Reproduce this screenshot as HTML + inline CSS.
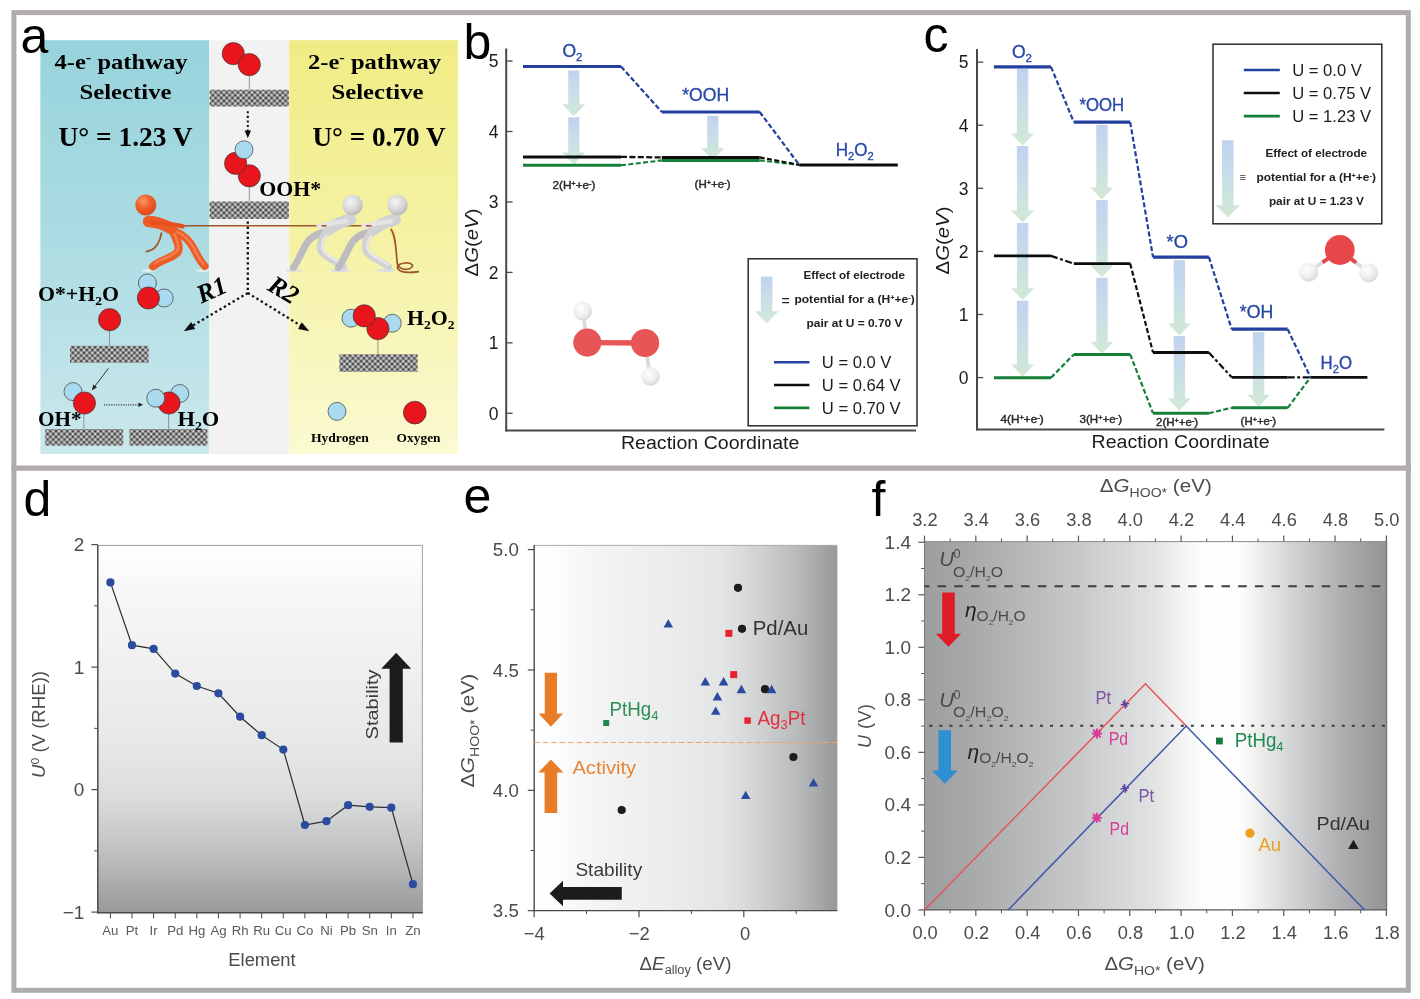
<!DOCTYPE html>
<html><head><meta charset="utf-8"><title>figure</title>
<style>html,body{margin:0;padding:0;background:#fff;}body{width:1420px;height:999px;overflow:hidden;font-family:"Liberation Sans",sans-serif;}svg{display:block;}</style></head>
<body>
<svg width="1420" height="999" viewBox="0 0 1420 999">
<defs>
<linearGradient id="gArr" x1="0" y1="0" x2="0" y2="1"><stop offset="0" stop-color="#bdd0ee"/><stop offset="0.45" stop-color="#c6dbe8"/><stop offset="1" stop-color="#cfe8d2"/></linearGradient>
<radialGradient id="gH" cx="0.4" cy="0.35" r="0.75"><stop offset="0" stop-color="#ffffff"/><stop offset="0.6" stop-color="#ececec"/><stop offset="1" stop-color="#cfcfcf"/></radialGradient>
<filter id="soft" x="0" y="0" width="1420" height="999" filterUnits="userSpaceOnUse"><feGaussianBlur stdDeviation="0.75"/></filter>
<linearGradient id="gBlue" x1="0" y1="0" x2="0" y2="1"><stop offset="0" stop-color="#97d3dc"/><stop offset="0.45" stop-color="#aadbe2"/><stop offset="1" stop-color="#cbe8ec"/></linearGradient>
<linearGradient id="gYel" x1="0" y1="0" x2="0" y2="1"><stop offset="0" stop-color="#f0ec84"/><stop offset="0.5" stop-color="#f5f2a6"/><stop offset="1" stop-color="#fbfad2"/></linearGradient>
<pattern id="hatch" width="5.6" height="5.6" patternUnits="userSpaceOnUse"><rect width="5.6" height="5.6" fill="#8e8e8e"/><circle cx="0" cy="0" r="1.0" fill="#333333"/><circle cx="5.6" cy="0" r="1.0" fill="#333333"/><circle cx="0" cy="5.6" r="1.0" fill="#333333"/><circle cx="5.6" cy="5.6" r="1.0" fill="#333333"/><circle cx="2.8" cy="2.8" r="1.0" fill="#333333"/><circle cx="2.8" cy="0" r="0.9" fill="#e6e6e6"/><circle cx="2.8" cy="5.6" r="0.9" fill="#e6e6e6"/><circle cx="0" cy="2.8" r="0.9" fill="#e6e6e6"/><circle cx="5.6" cy="2.8" r="0.9" fill="#e6e6e6"/></pattern>
<radialGradient id="gOr" cx="0.38" cy="0.32" r="0.75"><stop offset="0" stop-color="#fb9a6a"/><stop offset="0.45" stop-color="#f2602a"/><stop offset="1" stop-color="#d8451a"/></radialGradient>
<radialGradient id="gGr" cx="0.4" cy="0.35" r="0.75"><stop offset="0" stop-color="#f4f4f4"/><stop offset="0.55" stop-color="#d6d6d6"/><stop offset="1" stop-color="#aeaeae"/></radialGradient>
<linearGradient id="gD" x1="0" y1="0" x2="0" y2="1"><stop offset="0" stop-color="#ffffff"/><stop offset="0.12" stop-color="#f7f7f7"/><stop offset="0.35" stop-color="#efefef"/><stop offset="0.55" stop-color="#e6e7e7"/><stop offset="0.68" stop-color="#dcdddd"/><stop offset="0.8" stop-color="#c6c7c9"/><stop offset="0.9" stop-color="#b0b1b3"/><stop offset="1" stop-color="#98999b"/></linearGradient>
<linearGradient id="gE" x1="0" y1="0" x2="1" y2="0"><stop offset="0" stop-color="#ffffff"/><stop offset="0.05" stop-color="#fefefe"/><stop offset="0.2" stop-color="#f4f4f4"/><stop offset="0.45" stop-color="#ebecec"/><stop offset="0.62" stop-color="#e3e4e4"/><stop offset="0.75" stop-color="#d0d1d2"/><stop offset="0.88" stop-color="#b6b7b9"/><stop offset="1" stop-color="#97989a"/></linearGradient>
<linearGradient id="gF" x1="0" y1="0" x2="1" y2="0"><stop offset="0" stop-color="#9d9ea0"/><stop offset="0.077" stop-color="#a5a6a8"/><stop offset="0.163" stop-color="#b0b1b3"/><stop offset="0.25" stop-color="#bcbdbf"/><stop offset="0.337" stop-color="#c8c9ca"/><stop offset="0.423" stop-color="#d6d7d8"/><stop offset="0.5" stop-color="#e2e3e3"/><stop offset="0.551" stop-color="#f2f2f2"/><stop offset="0.603" stop-color="#fdfdfd"/><stop offset="0.64" stop-color="#ffffff"/><stop offset="0.683" stop-color="#fdfdfd"/><stop offset="0.731" stop-color="#ebebea"/><stop offset="0.77" stop-color="#dcdddd"/><stop offset="0.791" stop-color="#d3d5d6"/><stop offset="0.839" stop-color="#c3c5c6"/><stop offset="0.878" stop-color="#b6b7b9"/><stop offset="0.921" stop-color="#a9aaac"/><stop offset="0.964" stop-color="#9c9d9f"/><stop offset="1.0" stop-color="#939496"/></linearGradient>
</defs>
<g filter="url(#soft)">
<rect x="13.9" y="12.6" width="1394.4" height="977.7" fill="#ffffff" stroke="#b0acac" stroke-width="5" />
<line x1="11.4" y1="468.1" x2="1410.8" y2="468.1" stroke="#b0acac" stroke-width="5.2" stroke-linecap="butt"/>
<rect x="40.4" y="40.2" width="169" height="413.8" fill="url(#gBlue)" />
<rect x="209.4" y="40.2" width="79.8" height="413.8" fill="#f2f2f2" />
<rect x="289.2" y="40.2" width="168.8" height="413.8" fill="url(#gYel)" />
<text x="121" y="69.4" font-family='"Liberation Serif", serif' font-size="21" fill="#000" text-anchor="middle" font-weight="bold" font-style="normal" textLength="133" lengthAdjust="spacingAndGlyphs" >4-e<tspan dy="-7" font-size="14">-</tspan><tspan dy="7"> pathway</tspan></text>
<text x="125.5" y="98.6" font-family='"Liberation Serif", serif' font-size="21" fill="#000" text-anchor="middle" font-weight="bold" font-style="normal" textLength="92" lengthAdjust="spacingAndGlyphs" >Selective</text>
<text x="125.5" y="146.2" font-family='"Liberation Serif", serif' font-size="26.5" fill="#000" text-anchor="middle" font-weight="bold" font-style="normal" textLength="134" lengthAdjust="spacingAndGlyphs" >U° = 1.23 V</text>
<text x="374.5" y="69.4" font-family='"Liberation Serif", serif' font-size="21" fill="#000" text-anchor="middle" font-weight="bold" font-style="normal" textLength="133" lengthAdjust="spacingAndGlyphs" >2-e<tspan dy="-7" font-size="14">-</tspan><tspan dy="7"> pathway</tspan></text>
<text x="377.5" y="98.6" font-family='"Liberation Serif", serif' font-size="21" fill="#000" text-anchor="middle" font-weight="bold" font-style="normal" textLength="92" lengthAdjust="spacingAndGlyphs" >Selective</text>
<text x="379" y="146.2" font-family='"Liberation Serif", serif' font-size="26.5" fill="#000" text-anchor="middle" font-weight="bold" font-style="normal" textLength="133" lengthAdjust="spacingAndGlyphs" >U° = 0.70 V</text>
<line x1="249.3" y1="74" x2="249.3" y2="90" stroke="#8a8a8a" stroke-width="0.9" stroke-linecap="butt"/>
<rect x="209.6" y="89.7" width="79.2" height="16.8" fill="url(#hatch)" />
<circle cx="233.3" cy="53.6" r="11.1" fill="#e8141c" stroke="#3a3a3a" stroke-width="0.7"/>
<circle cx="249.3" cy="64.6" r="11.1" fill="#e8141c" stroke="#3a3a3a" stroke-width="0.7"/>
<line x1="247.8" y1="111.2" x2="247.8" y2="131" stroke="#111" stroke-width="2.0" stroke-dasharray="2.1 2.5" stroke-linecap="butt"/>
<path d="M244.6 130.5 L251 130.5 L247.8 138.2 Z" fill="#111"/>
<line x1="249.3" y1="186" x2="249.3" y2="202" stroke="#8a8a8a" stroke-width="0.9" stroke-linecap="butt"/>
<rect x="209.6" y="201.5" width="79.2" height="17.4" fill="url(#hatch)" />
<circle cx="249.3" cy="175.8" r="11.1" fill="#e8141c" stroke="#3a3a3a" stroke-width="0.7"/>
<circle cx="235.6" cy="163.4" r="11.1" fill="#e8141c" stroke="#3a3a3a" stroke-width="0.7"/>
<circle cx="244" cy="149.8" r="9.0" fill="#a9daef" stroke="#3a3a3a" stroke-width="0.7"/>
<text x="259.3" y="196.4" font-family='"Liberation Serif", serif' font-size="21" fill="#000" text-anchor="start" font-weight="bold" font-style="normal" textLength="62" lengthAdjust="spacingAndGlyphs" >OOH*</text>
<line x1="247.8" y1="221.5" x2="247.8" y2="293.6" stroke="#111" stroke-width="2.3" stroke-dasharray="2.3 2.8" stroke-linecap="butt"/>
<line x1="247.8" y1="293" x2="191" y2="326.6" stroke="#111" stroke-width="2.3" stroke-dasharray="2.3 2.8" stroke-linecap="butt"/>
<path d="M183.8 331.2 L191.2 322 L195.2 329 Z" fill="#111"/>
<line x1="247.8" y1="293" x2="302" y2="326.4" stroke="#111" stroke-width="2.3" stroke-dasharray="2.3 2.8" stroke-linecap="butt"/>
<path d="M309.4 331.2 L298 329 L301.8 322.2 Z" fill="#111"/>
<text transform="translate(211.7 290) rotate(-24)" x="0" y="8.4" text-anchor="middle" font-family='"Liberation Serif", serif' font-size="26" font-weight="bold" font-style="italic">R1</text>
<text transform="translate(283.5 290) rotate(31)" x="0" y="8.4" text-anchor="middle" font-family='"Liberation Serif", serif' font-size="26" font-weight="bold" font-style="italic">R2</text>
<line x1="184" y1="225.8" x2="393" y2="225.8" stroke="#a0562a" stroke-width="1.5" stroke-linecap="butt"/>
<path d="M161.6 232.5 C160.5 240 156.5 250.5 145.8 251.6" fill="none" stroke="#a0562a" stroke-width="1.8"/>
<path d="M390.5 229 C395.5 233 396 250 397.2 263 C398 268 404 271 410 268.5 C415 266 412 262.5 405 263 C398 263.6 394.5 267.8 400.5 271 C406 273.5 413 272.5 419 271.6" fill="none" stroke="#a0562a" stroke-width="1.7"/>
<ellipse cx="149" cy="270.6" rx="8" ry="1.4" fill="#e6eef0" opacity="0.9"/>
<ellipse cx="203.5" cy="270.6" rx="8" ry="1.4" fill="#e6eef0" opacity="0.9"/>
<path d="M171.5 229 C176 238 180.5 246 178 251.5 C174.5 258 160 259.5 153 266.5" fill="none" stroke="#ee5b27" stroke-width="8" stroke-linecap="round"/>
<path d="M174.5 231 C184 235 190 241 194 249 C197.5 256 200.5 262 204.8 266.2" fill="none" stroke="#ee5b27" stroke-width="7.6" stroke-linecap="round"/>
<path d="M172.5 230 C176.5 238 180 246 177.5 250.5 C174 256 161 258.5 155 263.5" fill="none" stroke="#f88a5e" stroke-width="2.6" stroke-linecap="round" opacity="0.75"/>
<path d="M177 231.5 C185 235.5 190.5 241.5 194 248.5 C197 255 200 260.5 203.5 264" fill="none" stroke="#f88a5e" stroke-width="2.4" stroke-linecap="round" opacity="0.75"/>
<path d="M148.5 221.5 C155 221.5 164 224.5 171 228.5" fill="none" stroke="#ee5b27" stroke-width="11.5" stroke-linecap="round"/>
<path d="M152 222.5 C161 222.5 172 224 182.5 226.3" fill="none" stroke="#e8501f" stroke-width="4.6" stroke-linecap="round"/>
<circle cx="145.8" cy="205" r="10.5" fill="url(#gOr)"/>
<ellipse cx="294" cy="270.5" rx="9" ry="1.5" fill="#dcdce6" opacity="0.9"/>
<ellipse cx="341" cy="270.5" rx="10" ry="1.6" fill="#dcdce6" opacity="0.9"/>
<path d="M326 231.5 C316 234 309 238 305.5 245 C302 252 298 261 293.5 267.5" fill="none" stroke="#bcbcc0" stroke-width="7" stroke-linecap="round"/>
<path d="M327 232 C321 238 318.5 246 321.5 252 C326 259 338 261.5 343.5 267" fill="none" stroke="#d2d2d5" stroke-width="6.8" stroke-linecap="round"/>
<path d="M328 233.5 C323 239 320.5 246 323.5 251 C328 257.5 338 260 343 265" fill="none" stroke="#ececee" stroke-width="2.4" stroke-linecap="round" opacity="0.8"/>
<path d="M350 219.5 C343 221 334 225.5 328.5 229.5" fill="none" stroke="#d2d2d5" stroke-width="12" stroke-linecap="round"/>
<path d="M346 221 C336 222.5 326 224.5 318.5 226.2" fill="none" stroke="#e4e4e6" stroke-width="4.6" stroke-linecap="round"/>
<circle cx="352.4" cy="205" r="10.3" fill="url(#gGr)"/>
<ellipse cx="339" cy="270.5" rx="9" ry="1.5" fill="#dcdce6" opacity="0.9"/>
<ellipse cx="386" cy="270.5" rx="10" ry="1.6" fill="#dcdce6" opacity="0.9"/>
<path d="M371 231.5 C361 234 354 238 350.5 245 C347 252 343 261 338.5 267.5" fill="none" stroke="#bcbcc0" stroke-width="7" stroke-linecap="round"/>
<path d="M372 232 C366 238 363.5 246 366.5 252 C371 259 383 261.5 388.5 267" fill="none" stroke="#d2d2d5" stroke-width="6.8" stroke-linecap="round"/>
<path d="M373 233.5 C368 239 365.5 246 368.5 251 C373 257.5 383 260 388 265" fill="none" stroke="#ececee" stroke-width="2.4" stroke-linecap="round" opacity="0.8"/>
<path d="M395 219.5 C388 221 379 225.5 373.5 229.5" fill="none" stroke="#d2d2d5" stroke-width="12" stroke-linecap="round"/>
<path d="M391 221 C381 222.5 371 224.5 363.5 226.2" fill="none" stroke="#e4e4e6" stroke-width="4.6" stroke-linecap="round"/>
<circle cx="397.4" cy="205" r="10.3" fill="url(#gGr)"/>
<line x1="321.5" y1="225.8" x2="326.5" y2="225.8" stroke="#a0562a" stroke-width="1.6" stroke-linecap="butt"/>
<line x1="366" y1="225.8" x2="371.5" y2="225.8" stroke="#a0562a" stroke-width="1.6" stroke-linecap="butt"/>
<text x="38" y="300.8" font-family='"Liberation Serif", serif' font-size="21" fill="#000" text-anchor="start" font-weight="bold" font-style="normal" textLength="81" lengthAdjust="spacingAndGlyphs" >O*+H<tspan dy="4" font-size="13">2</tspan><tspan dy="-4">O</tspan></text>
<circle cx="147.4" cy="283" r="9.0" fill="#a9daef" stroke="#3a3a3a" stroke-width="0.7"/>
<circle cx="164.2" cy="298" r="9.0" fill="#a9daef" stroke="#3a3a3a" stroke-width="0.7"/>
<circle cx="148.4" cy="298" r="11.1" fill="#e8141c" stroke="#3a3a3a" stroke-width="0.7"/>
<line x1="109.5" y1="330" x2="109.5" y2="346" stroke="#8a8a8a" stroke-width="0.9" stroke-linecap="butt"/>
<rect x="70" y="345.8" width="78.6" height="17" fill="url(#hatch)" />
<circle cx="109.6" cy="319.7" r="11.1" fill="#e8141c" stroke="#3a3a3a" stroke-width="0.7"/>
<line x1="108.4" y1="368.4" x2="94" y2="387.4" stroke="#222" stroke-width="0.9" stroke-linecap="butt"/>
<path d="M91.8 390.2 L93.4 384.6 L97 387.4 Z" fill="#222"/>
<line x1="83.8" y1="413" x2="83.8" y2="429.5" stroke="#8a8a8a" stroke-width="0.9" stroke-linecap="butt"/>
<circle cx="73" cy="391.6" r="9.0" fill="#a9daef" stroke="#3a3a3a" stroke-width="0.7"/>
<circle cx="84.4" cy="403" r="11.1" fill="#e8141c" stroke="#3a3a3a" stroke-width="0.7"/>
<text x="38" y="425.6" font-family='"Liberation Serif", serif' font-size="21" fill="#000" text-anchor="start" font-weight="bold" font-style="normal" textLength="43.5" lengthAdjust="spacingAndGlyphs" >OH*</text>
<rect x="45.2" y="429" width="78" height="16.6" fill="url(#hatch)" />
<rect x="129.4" y="429" width="78" height="16.6" fill="url(#hatch)" />
<line x1="104" y1="404.8" x2="139" y2="404.8" stroke="#444" stroke-width="1.2" stroke-dasharray="1.2 1.2" stroke-linecap="butt"/>
<path d="M138.5 402.6 L143 404.8 L138.5 407 Z" fill="#222"/>
<line x1="168.6" y1="413" x2="168.6" y2="429.5" stroke="#8a8a8a" stroke-width="0.9" stroke-linecap="butt"/>
<circle cx="179.8" cy="393.5" r="9.0" fill="#a9daef" stroke="#3a3a3a" stroke-width="0.7"/>
<circle cx="169" cy="403" r="11.1" fill="#e8141c" stroke="#3a3a3a" stroke-width="0.7"/>
<circle cx="155.8" cy="398.2" r="9.0" fill="#a9daef" stroke="#3a3a3a" stroke-width="0.7"/>
<text x="177.4" y="425.6" font-family='"Liberation Serif", serif' font-size="21" fill="#000" text-anchor="start" font-weight="bold" font-style="normal" textLength="42" lengthAdjust="spacingAndGlyphs" >H<tspan dy="4" font-size="13">2</tspan><tspan dy="-4">O</tspan></text>
<line x1="377.9" y1="338" x2="377.9" y2="355" stroke="#8a8a8a" stroke-width="0.9" stroke-linecap="butt"/>
<rect x="339.4" y="354.2" width="78.2" height="17.6" fill="url(#hatch)" />
<circle cx="351" cy="318.2" r="9.0" fill="#a9daef" stroke="#3a3a3a" stroke-width="0.7"/>
<circle cx="392.3" cy="323.2" r="9.0" fill="#a9daef" stroke="#3a3a3a" stroke-width="0.7"/>
<circle cx="377.9" cy="328.6" r="11.1" fill="#e8141c" stroke="#3a3a3a" stroke-width="0.7"/>
<circle cx="364.2" cy="315.8" r="11.1" fill="#e8141c" stroke="#3a3a3a" stroke-width="0.7"/>
<text x="407" y="325" font-family='"Liberation Serif", serif' font-size="21" fill="#000" text-anchor="start" font-weight="bold" font-style="normal" textLength="47.5" lengthAdjust="spacingAndGlyphs" >H<tspan dy="4" font-size="13">2</tspan><tspan dy="-4">O</tspan><tspan dy="4" font-size="13">2</tspan></text>
<circle cx="337" cy="411.4" r="9" fill="#a9daef" stroke="#3a3a3a" stroke-width="0.7"/>
<circle cx="414.8" cy="412.6" r="11.4" fill="#e8141c" stroke="#3a3a3a" stroke-width="0.7"/>
<text x="339.9" y="441.8" font-family='"Liberation Serif", serif' font-size="11.5" fill="#000" text-anchor="middle" font-weight="bold" font-style="normal" textLength="58" lengthAdjust="spacingAndGlyphs" >Hydrogen</text>
<text x="418.6" y="441.8" font-family='"Liberation Serif", serif' font-size="11.5" fill="#000" text-anchor="middle" font-weight="bold" font-style="normal" textLength="44" lengthAdjust="spacingAndGlyphs" >Oxygen</text>
<path d="M568.2 70.5 L579.4 70.5 L579.4 104.2 L585.3 104.2 L573.8 116.2 L562.3 104.2 L568.2 104.2 Z" fill="url(#gArr)" opacity="0.95"/>
<path d="M568.2 117.2 L579.4 117.2 L579.4 152.4 L585.3 152.4 L573.8 164.4 L562.3 152.4 L568.2 152.4 Z" fill="url(#gArr)" opacity="0.95"/>
<path d="M707.2 115.8 L718.4 115.8 L718.4 148.2 L724.3 148.2 L712.8 160.2 L701.3 148.2 L707.2 148.2 Z" fill="url(#gArr)" opacity="0.95"/>
<line x1="506.2" y1="48.6" x2="506.2" y2="431.4" stroke="#484848" stroke-width="2.0" stroke-linecap="butt"/>
<line x1="505.4" y1="430.6" x2="916" y2="430.6" stroke="#484848" stroke-width="2.0" stroke-linecap="butt"/>
<line x1="506.2" y1="413.3" x2="512.6" y2="413.3" stroke="#484848" stroke-width="1.3" stroke-linecap="butt"/>
<text x="498.6" y="419.6" font-family='"Liberation Sans", sans-serif' font-size="17.5" fill="#1c1c1c" text-anchor="end" font-weight="normal" font-style="normal" >0</text>
<line x1="506.2" y1="342.85" x2="512.6" y2="342.85" stroke="#484848" stroke-width="1.3" stroke-linecap="butt"/>
<text x="498.6" y="349.15000000000003" font-family='"Liberation Sans", sans-serif' font-size="17.5" fill="#1c1c1c" text-anchor="end" font-weight="normal" font-style="normal" >1</text>
<line x1="506.2" y1="272.4" x2="512.6" y2="272.4" stroke="#484848" stroke-width="1.3" stroke-linecap="butt"/>
<text x="498.6" y="278.7" font-family='"Liberation Sans", sans-serif' font-size="17.5" fill="#1c1c1c" text-anchor="end" font-weight="normal" font-style="normal" >2</text>
<line x1="506.2" y1="201.95" x2="512.6" y2="201.95" stroke="#484848" stroke-width="1.3" stroke-linecap="butt"/>
<text x="498.6" y="208.25" font-family='"Liberation Sans", sans-serif' font-size="17.5" fill="#1c1c1c" text-anchor="end" font-weight="normal" font-style="normal" >3</text>
<line x1="506.2" y1="131.5" x2="512.6" y2="131.5" stroke="#484848" stroke-width="1.3" stroke-linecap="butt"/>
<text x="498.6" y="137.8" font-family='"Liberation Sans", sans-serif' font-size="17.5" fill="#1c1c1c" text-anchor="end" font-weight="normal" font-style="normal" >4</text>
<line x1="506.2" y1="61.05000000000001" x2="512.6" y2="61.05000000000001" stroke="#484848" stroke-width="1.3" stroke-linecap="butt"/>
<text x="498.6" y="67.35000000000001" font-family='"Liberation Sans", sans-serif' font-size="17.5" fill="#1c1c1c" text-anchor="end" font-weight="normal" font-style="normal" >5</text>
<text transform="translate(478.3 242.5) rotate(-90)" text-anchor="middle" font-family='"Liberation Sans", sans-serif' font-size="17.5" fill="#1c1c1c" textLength="68" lengthAdjust="spacingAndGlyphs">Δ<tspan font-style="italic">G</tspan>(<tspan font-style="italic">eV</tspan>)</text>
<text x="710.2" y="448.6" font-family='"Liberation Sans", sans-serif' font-size="18" fill="#1c1c1c" text-anchor="middle" font-weight="normal" font-style="normal" textLength="178.5" lengthAdjust="spacingAndGlyphs" >Reaction Coordinate</text>
<line x1="523" y1="165.3" x2="621" y2="165.3" stroke="#16803a" stroke-width="3.0" stroke-linecap="butt"/>
<line x1="621" y1="165.3" x2="661.8" y2="160.4" stroke="#16803a" stroke-width="2.1" stroke-dasharray="5 2.4" stroke-linecap="butt"/>
<line x1="661.8" y1="160.4" x2="759.7" y2="160.4" stroke="#16803a" stroke-width="3.0" stroke-linecap="butt"/>
<line x1="759.7" y1="160.4" x2="799.3" y2="164.9" stroke="#16803a" stroke-width="2.1" stroke-dasharray="5 2.4" stroke-linecap="butt"/>
<line x1="523" y1="156.9" x2="621" y2="156.9" stroke="#111111" stroke-width="3.0" stroke-linecap="butt"/>
<line x1="621" y1="156.9" x2="661.8" y2="157.4" stroke="#111111" stroke-width="2.3" stroke-dasharray="6 2.4" stroke-linecap="butt"/>
<line x1="661.8" y1="157.4" x2="759.7" y2="157.4" stroke="#111111" stroke-width="3.0" stroke-linecap="butt"/>
<line x1="759.7" y1="157.4" x2="799.3" y2="164.9" stroke="#111111" stroke-width="2.2" stroke-dasharray="5 2.4" stroke-linecap="butt"/>
<line x1="799.3" y1="164.9" x2="897.8" y2="164.9" stroke="#111111" stroke-width="3.0" stroke-linecap="butt"/>
<line x1="523" y1="66.5" x2="621" y2="66.5" stroke="#24409e" stroke-width="3.2" stroke-linecap="butt"/>
<line x1="621" y1="66.5" x2="661.8" y2="112.0" stroke="#24409e" stroke-width="2.2" stroke-dasharray="5 2.4" stroke-linecap="butt"/>
<line x1="661.8" y1="112.0" x2="759.7" y2="112.0" stroke="#24409e" stroke-width="3.2" stroke-linecap="butt"/>
<line x1="759.7" y1="112.0" x2="799.3" y2="164.9" stroke="#24409e" stroke-width="2.2" stroke-dasharray="5 2.4" stroke-linecap="butt"/>
<text x="572.4" y="57.2" font-family='"Liberation Sans", sans-serif' font-size="17.5" fill="#2848a8" text-anchor="middle" font-weight="normal" font-style="normal" stroke="#2848a8" stroke-width="0.35">O<tspan dy="3.5" font-size="11.5">2</tspan></text>
<text x="682.2" y="101.2" font-family='"Liberation Sans", sans-serif' font-size="17.5" fill="#2848a8" text-anchor="start" font-weight="normal" font-style="normal" textLength="47" lengthAdjust="spacingAndGlyphs" stroke="#2848a8" stroke-width="0.35">*OOH</text>
<text x="835.8" y="156.4" font-family='"Liberation Sans", sans-serif' font-size="17.5" fill="#2848a8" text-anchor="start" font-weight="normal" font-style="normal" textLength="38" lengthAdjust="spacingAndGlyphs" stroke="#2848a8" stroke-width="0.35">H<tspan dy="3.5" font-size="11.5">2</tspan><tspan dy="-3.5">O</tspan><tspan dy="3.5" font-size="11.5">2</tspan></text>
<text x="552.5" y="189" font-family='"Liberation Sans", sans-serif' font-size="10.2" fill="#2a2a2a" text-anchor="start" font-weight="normal" font-style="normal" textLength="43" lengthAdjust="spacingAndGlyphs" stroke="#2a2a2a" stroke-width="0.4">2(H<tspan dy="-3" font-size="6.5">+</tspan><tspan dy="3">+e</tspan><tspan dy="-3" font-size="6.5">-</tspan><tspan dy="3">)</tspan></text>
<text x="694.6" y="188.2" font-family='"Liberation Sans", sans-serif' font-size="10.2" fill="#2a2a2a" text-anchor="start" font-weight="normal" font-style="normal" textLength="36" lengthAdjust="spacingAndGlyphs" stroke="#2a2a2a" stroke-width="0.4">(H<tspan dy="-3" font-size="6.5">+</tspan><tspan dy="3">+e</tspan><tspan dy="-3" font-size="6.5">-</tspan><tspan dy="3">)</tspan></text>
<line x1="582.8" y1="313" x2="586.8" y2="338" stroke="#d9d9d9" stroke-width="3.6" stroke-linecap="butt"/>
<line x1="649.8" y1="374" x2="646" y2="350" stroke="#d9d9d9" stroke-width="3.6" stroke-linecap="butt"/>
<line x1="587.3" y1="342.6" x2="645" y2="343" stroke="#e85457" stroke-width="5.4" stroke-linecap="butt"/>
<circle cx="582.6" cy="311" r="9.4" fill="url(#gH)"/>
<circle cx="650.4" cy="376.4" r="9.4" fill="url(#gH)"/>
<circle cx="587.3" cy="342.6" r="14.1" fill="#e85457"/>
<circle cx="645.1" cy="343.0" r="14.1" fill="#e85457"/>
<rect x="748.2" y="258.8" width="168.8" height="167" fill="#ffffff" stroke="#2a2a2a" stroke-width="1.5" />
<path d="M760.8 276.4 L772.4 276.4 L772.4 311.2 L778.4 311.2 L766.6 323.4 L754.9 311.2 L760.8 311.2 Z" fill="url(#gArr)" opacity="0.95"/>
<text x="854.2" y="279.2" font-family='"Liberation Sans", sans-serif' font-size="10.6" fill="#222" text-anchor="middle" font-weight="bold" font-style="normal" textLength="101.5" lengthAdjust="spacingAndGlyphs" >Effect of electrode</text>
<text x="781.6" y="305.6" font-family='"Liberation Sans", sans-serif' font-size="14" fill="#222" text-anchor="start" font-weight="normal" font-style="normal" >=</text>
<text x="794.4" y="303.3" font-family='"Liberation Sans", sans-serif' font-size="10.6" fill="#222" text-anchor="start" font-weight="bold" font-style="normal" textLength="120.4" lengthAdjust="spacingAndGlyphs" >potential for a (H<tspan dy="-3" font-size="6.5">+</tspan><tspan dy="3">+e</tspan><tspan dy="-3" font-size="6.5">-</tspan><tspan dy="3">)</tspan></text>
<text x="854.5" y="327.3" font-family='"Liberation Sans", sans-serif' font-size="10.6" fill="#222" text-anchor="middle" font-weight="bold" font-style="normal" textLength="96" lengthAdjust="spacingAndGlyphs" >pair at U = 0.70 V</text>
<line x1="774" y1="362.2" x2="809.4" y2="362.2" stroke="#24409e" stroke-width="2.6" stroke-linecap="butt"/>
<text x="821.8" y="368.09999999999997" font-family='"Liberation Sans", sans-serif' font-size="16.6" fill="#1c1c1c" text-anchor="start" font-weight="normal" font-style="normal" >U = 0.0 V</text>
<line x1="774" y1="385.05" x2="809.4" y2="385.05" stroke="#111111" stroke-width="2.6" stroke-linecap="butt"/>
<text x="821.8" y="390.95" font-family='"Liberation Sans", sans-serif' font-size="16.6" fill="#1c1c1c" text-anchor="start" font-weight="normal" font-style="normal" >U = 0.64 V</text>
<line x1="774" y1="407.9" x2="809.4" y2="407.9" stroke="#16803a" stroke-width="2.6" stroke-linecap="butt"/>
<text x="821.8" y="413.79999999999995" font-family='"Liberation Sans", sans-serif' font-size="16.6" fill="#1c1c1c" text-anchor="start" font-weight="normal" font-style="normal" >U = 0.70 V</text>
<path d="M1016.9 68.7 L1028.3 68.7 L1028.3 133.6 L1034.0 133.6 L1022.6 145.6 L1011.2 133.6 L1016.9 133.6 Z" fill="url(#gArr)" opacity="0.95"/>
<path d="M1016.9 146.1 L1028.3 146.1 L1028.3 210.6 L1034.0 210.6 L1022.6 222.6 L1011.2 210.6 L1016.9 210.6 Z" fill="url(#gArr)" opacity="0.95"/>
<path d="M1016.9 223.1 L1028.3 223.1 L1028.3 288.2 L1034.0 288.2 L1022.6 300.2 L1011.2 288.2 L1016.9 288.2 Z" fill="url(#gArr)" opacity="0.95"/>
<path d="M1016.9 300.7 L1028.3 300.7 L1028.3 364.6 L1034.0 364.6 L1022.6 376.6 L1011.2 364.6 L1016.9 364.6 Z" fill="url(#gArr)" opacity="0.95"/>
<path d="M1096.3 125.1 L1107.7 125.1 L1107.7 187.6 L1113.4 187.6 L1102.0 199.6 L1090.6 187.6 L1096.3 187.6 Z" fill="url(#gArr)" opacity="0.95"/>
<path d="M1096.3 200.1 L1107.7 200.1 L1107.7 265.2 L1113.4 265.2 L1102.0 277.2 L1090.6 265.2 L1096.3 265.2 Z" fill="url(#gArr)" opacity="0.95"/>
<path d="M1096.3 277.7 L1107.7 277.7 L1107.7 341.8 L1113.4 341.8 L1102.0 353.8 L1090.6 341.8 L1096.3 341.8 Z" fill="url(#gArr)" opacity="0.95"/>
<path d="M1173.7 260.3 L1185.1 260.3 L1185.1 323.4 L1190.8 323.4 L1179.4 335.4 L1168.0 323.4 L1173.7 323.4 Z" fill="url(#gArr)" opacity="0.95"/>
<path d="M1173.7 335.9 L1185.1 335.9 L1185.1 398.6 L1190.8 398.6 L1179.4 410.6 L1168.0 398.6 L1173.7 398.6 Z" fill="url(#gArr)" opacity="0.95"/>
<path d="M1252.9 332.3 L1264.3 332.3 L1264.3 394.8 L1270.0 394.8 L1258.6 406.8 L1247.2 394.8 L1252.9 394.8 Z" fill="url(#gArr)" opacity="0.95"/>
<line x1="977" y1="49" x2="977" y2="430.2" stroke="#484848" stroke-width="2.0" stroke-linecap="butt"/>
<line x1="976.2" y1="429.4" x2="1384.4" y2="429.4" stroke="#484848" stroke-width="2.0" stroke-linecap="butt"/>
<line x1="977" y1="377.6" x2="983.2" y2="377.6" stroke="#484848" stroke-width="1.3" stroke-linecap="butt"/>
<text x="968.6" y="383.90000000000003" font-family='"Liberation Sans", sans-serif' font-size="17.5" fill="#1c1c1c" text-anchor="end" font-weight="normal" font-style="normal" >0</text>
<line x1="977" y1="314.5" x2="983.2" y2="314.5" stroke="#484848" stroke-width="1.3" stroke-linecap="butt"/>
<text x="968.6" y="320.8" font-family='"Liberation Sans", sans-serif' font-size="17.5" fill="#1c1c1c" text-anchor="end" font-weight="normal" font-style="normal" >1</text>
<line x1="977" y1="251.40000000000003" x2="983.2" y2="251.40000000000003" stroke="#484848" stroke-width="1.3" stroke-linecap="butt"/>
<text x="968.6" y="257.70000000000005" font-family='"Liberation Sans", sans-serif' font-size="17.5" fill="#1c1c1c" text-anchor="end" font-weight="normal" font-style="normal" >2</text>
<line x1="977" y1="188.3" x2="983.2" y2="188.3" stroke="#484848" stroke-width="1.3" stroke-linecap="butt"/>
<text x="968.6" y="194.60000000000002" font-family='"Liberation Sans", sans-serif' font-size="17.5" fill="#1c1c1c" text-anchor="end" font-weight="normal" font-style="normal" >3</text>
<line x1="977" y1="125.20000000000002" x2="983.2" y2="125.20000000000002" stroke="#484848" stroke-width="1.3" stroke-linecap="butt"/>
<text x="968.6" y="131.50000000000003" font-family='"Liberation Sans", sans-serif' font-size="17.5" fill="#1c1c1c" text-anchor="end" font-weight="normal" font-style="normal" >4</text>
<line x1="977" y1="62.10000000000002" x2="983.2" y2="62.10000000000002" stroke="#484848" stroke-width="1.3" stroke-linecap="butt"/>
<text x="968.6" y="68.40000000000002" font-family='"Liberation Sans", sans-serif' font-size="17.5" fill="#1c1c1c" text-anchor="end" font-weight="normal" font-style="normal" >5</text>
<text transform="translate(949 240.5) rotate(-90)" text-anchor="middle" font-family='"Liberation Sans", sans-serif' font-size="17.5" fill="#1c1c1c" textLength="68" lengthAdjust="spacingAndGlyphs">Δ<tspan font-style="italic">G</tspan>(<tspan font-style="italic">eV</tspan>)</text>
<text x="1180.6" y="448.2" font-family='"Liberation Sans", sans-serif' font-size="18" fill="#1c1c1c" text-anchor="middle" font-weight="normal" font-style="normal" textLength="178" lengthAdjust="spacingAndGlyphs" >Reaction Coordinate</text>
<line x1="994" y1="377.7" x2="1051" y2="377.7" stroke="#16803a" stroke-width="3.0" stroke-linecap="butt"/>
<line x1="1051" y1="377.7" x2="1073.8" y2="354.4" stroke="#16803a" stroke-width="2.2" stroke-dasharray="5 2.4" stroke-linecap="butt"/>
<line x1="1073.8" y1="354.4" x2="1130.2" y2="354.4" stroke="#16803a" stroke-width="3.0" stroke-linecap="butt"/>
<line x1="1130.2" y1="354.4" x2="1153" y2="413.2" stroke="#16803a" stroke-width="2.2" stroke-dasharray="5 2.4" stroke-linecap="butt"/>
<line x1="1153" y1="413.2" x2="1208.9" y2="413.2" stroke="#16803a" stroke-width="3.0" stroke-linecap="butt"/>
<line x1="1208.9" y1="413.2" x2="1231.7" y2="407.8" stroke="#16803a" stroke-width="2.2" stroke-dasharray="5 2.4" stroke-linecap="butt"/>
<line x1="1231.7" y1="407.8" x2="1287.7" y2="407.8" stroke="#16803a" stroke-width="3.0" stroke-linecap="butt"/>
<line x1="1287.7" y1="407.8" x2="1310.5" y2="377.4" stroke="#16803a" stroke-width="2.2" stroke-dasharray="5 2.4" stroke-linecap="butt"/>
<line x1="994" y1="255.9" x2="1051" y2="255.9" stroke="#111111" stroke-width="2.8" stroke-linecap="butt"/>
<line x1="1051" y1="255.9" x2="1073.8" y2="263.6" stroke="#111111" stroke-width="2.2" stroke-dasharray="7 2.5 3 2.5" stroke-linecap="butt"/>
<line x1="1073.8" y1="263.6" x2="1130.2" y2="263.6" stroke="#111111" stroke-width="2.8" stroke-linecap="butt"/>
<line x1="1130.2" y1="263.6" x2="1153" y2="352.5" stroke="#111111" stroke-width="2.2" stroke-dasharray="5 2.4" stroke-linecap="butt"/>
<line x1="1153" y1="352.5" x2="1208.9" y2="352.5" stroke="#111111" stroke-width="2.8" stroke-linecap="butt"/>
<line x1="1208.9" y1="352.5" x2="1231.7" y2="377.3" stroke="#111111" stroke-width="2.2" stroke-dasharray="7 2.5 3 2.5" stroke-linecap="butt"/>
<line x1="1231.7" y1="377.3" x2="1287.7" y2="377.3" stroke="#111111" stroke-width="2.8" stroke-linecap="butt"/>
<line x1="1287.7" y1="377.3" x2="1310.5" y2="377.4" stroke="#111111" stroke-width="2.2" stroke-dasharray="7 2.5 3 2.5" stroke-linecap="butt"/>
<line x1="1310.5" y1="377.4" x2="1367.4" y2="377.4" stroke="#111111" stroke-width="2.8" stroke-linecap="butt"/>
<line x1="994" y1="66.8" x2="1051" y2="66.8" stroke="#24409e" stroke-width="3.2" stroke-linecap="butt"/>
<line x1="1051" y1="66.8" x2="1073.8" y2="122.1" stroke="#24409e" stroke-width="2.2" stroke-dasharray="5 2.4" stroke-linecap="butt"/>
<line x1="1073.8" y1="122.1" x2="1130.2" y2="122.1" stroke="#24409e" stroke-width="3.2" stroke-linecap="butt"/>
<line x1="1130.2" y1="122.1" x2="1153" y2="257.1" stroke="#24409e" stroke-width="2.2" stroke-dasharray="5 2.4" stroke-linecap="butt"/>
<line x1="1153" y1="257.1" x2="1208.9" y2="257.1" stroke="#24409e" stroke-width="3.2" stroke-linecap="butt"/>
<line x1="1208.9" y1="257.1" x2="1231.7" y2="329.2" stroke="#24409e" stroke-width="2.2" stroke-dasharray="5 2.4" stroke-linecap="butt"/>
<line x1="1231.7" y1="329.2" x2="1287.7" y2="329.2" stroke="#24409e" stroke-width="3.2" stroke-linecap="butt"/>
<line x1="1287.7" y1="329.2" x2="1310.5" y2="377.4" stroke="#24409e" stroke-width="2.2" stroke-dasharray="5 2.4" stroke-linecap="butt"/>
<text x="1022" y="58.4" font-family='"Liberation Sans", sans-serif' font-size="17.5" fill="#2848a8" text-anchor="middle" font-weight="normal" font-style="normal" stroke="#2848a8" stroke-width="0.35">O<tspan dy="3.5" font-size="11.5">2</tspan></text>
<text x="1079.6" y="110.8" font-family='"Liberation Sans", sans-serif' font-size="17.5" fill="#2848a8" text-anchor="start" font-weight="normal" font-style="normal" textLength="44.6" lengthAdjust="spacingAndGlyphs" stroke="#2848a8" stroke-width="0.35">*OOH</text>
<text x="1166.6" y="248" font-family='"Liberation Sans", sans-serif' font-size="17.5" fill="#2848a8" text-anchor="start" font-weight="normal" font-style="normal" textLength="21.4" lengthAdjust="spacingAndGlyphs" stroke="#2848a8" stroke-width="0.35">*O</text>
<text x="1239.8" y="317.6" font-family='"Liberation Sans", sans-serif' font-size="17.5" fill="#2848a8" text-anchor="start" font-weight="normal" font-style="normal" textLength="33.4" lengthAdjust="spacingAndGlyphs" stroke="#2848a8" stroke-width="0.35">*OH</text>
<text x="1320.6" y="369.2" font-family='"Liberation Sans", sans-serif' font-size="17.5" fill="#2848a8" text-anchor="start" font-weight="normal" font-style="normal" textLength="31.4" lengthAdjust="spacingAndGlyphs" stroke="#2848a8" stroke-width="0.35">H<tspan dy="3.5" font-size="11.5">2</tspan><tspan dy="-3.5">O</tspan></text>
<text x="1000.4" y="423.4" font-family='"Liberation Sans", sans-serif' font-size="10.2" fill="#2a2a2a" text-anchor="start" font-weight="normal" font-style="normal" textLength="43.4" lengthAdjust="spacingAndGlyphs" stroke="#2a2a2a" stroke-width="0.4">4(H<tspan dy="-3" font-size="6.5">+</tspan><tspan dy="3">+e</tspan><tspan dy="-3" font-size="6.5">-</tspan><tspan dy="3">)</tspan></text>
<text x="1079.6" y="423.4" font-family='"Liberation Sans", sans-serif' font-size="10.2" fill="#2a2a2a" text-anchor="start" font-weight="normal" font-style="normal" textLength="42.4" lengthAdjust="spacingAndGlyphs" stroke="#2a2a2a" stroke-width="0.4">3(H<tspan dy="-3" font-size="6.5">+</tspan><tspan dy="3">+e</tspan><tspan dy="-3" font-size="6.5">-</tspan><tspan dy="3">)</tspan></text>
<text x="1156" y="425.8" font-family='"Liberation Sans", sans-serif' font-size="10.2" fill="#2a2a2a" text-anchor="start" font-weight="normal" font-style="normal" textLength="42.2" lengthAdjust="spacingAndGlyphs" stroke="#2a2a2a" stroke-width="0.4">2(H<tspan dy="-3" font-size="6.5">+</tspan><tspan dy="3">+e</tspan><tspan dy="-3" font-size="6.5">-</tspan><tspan dy="3">)</tspan></text>
<text x="1240.6" y="425" font-family='"Liberation Sans", sans-serif' font-size="10.2" fill="#2a2a2a" text-anchor="start" font-weight="normal" font-style="normal" textLength="35.6" lengthAdjust="spacingAndGlyphs" stroke="#2a2a2a" stroke-width="0.4">(H<tspan dy="-3" font-size="6.5">+</tspan><tspan dy="3">+e</tspan><tspan dy="-3" font-size="6.5">-</tspan><tspan dy="3">)</tspan></text>
<rect x="1213" y="44.2" width="168.8" height="179.6" fill="#ffffff" stroke="#2a2a2a" stroke-width="1.5" />
<line x1="1243.8" y1="70.0" x2="1279.8" y2="70.0" stroke="#24409e" stroke-width="2.6" stroke-linecap="butt"/>
<text x="1292.2" y="75.8" font-family='"Liberation Sans", sans-serif' font-size="16.6" fill="#1c1c1c" text-anchor="start" font-weight="normal" font-style="normal" >U = 0.0 V</text>
<line x1="1243.8" y1="93.05" x2="1279.8" y2="93.05" stroke="#111111" stroke-width="2.6" stroke-linecap="butt"/>
<text x="1292.2" y="98.85" font-family='"Liberation Sans", sans-serif' font-size="16.6" fill="#1c1c1c" text-anchor="start" font-weight="normal" font-style="normal" >U = 0.75 V</text>
<line x1="1243.8" y1="116.1" x2="1279.8" y2="116.1" stroke="#16803a" stroke-width="2.6" stroke-linecap="butt"/>
<text x="1292.2" y="121.89999999999999" font-family='"Liberation Sans", sans-serif' font-size="16.6" fill="#1c1c1c" text-anchor="start" font-weight="normal" font-style="normal" >U = 1.23 V</text>
<path d="M1222.0 140.2 L1233.6 140.2 L1233.6 205.2 L1240.1 205.2 L1227.8 217.6 L1215.5 205.2 L1222.0 205.2 Z" fill="url(#gArr)" opacity="0.95"/>
<text x="1316.2" y="157.4" font-family='"Liberation Sans", sans-serif' font-size="10.6" fill="#222" text-anchor="middle" font-weight="bold" font-style="normal" textLength="101.6" lengthAdjust="spacingAndGlyphs" >Effect of electrode</text>
<text x="1239.6" y="181.0" font-family='"Liberation Sans", sans-serif' font-size="11" fill="#333" text-anchor="start" font-weight="bold" font-style="normal" >≡</text>
<text x="1256.4" y="181.4" font-family='"Liberation Sans", sans-serif' font-size="10.6" fill="#222" text-anchor="start" font-weight="bold" font-style="normal" textLength="119.6" lengthAdjust="spacingAndGlyphs" >potential for a (H<tspan dy="-3" font-size="6.5">+</tspan><tspan dy="3">+e</tspan><tspan dy="-3" font-size="6.5">-</tspan><tspan dy="3">)</tspan></text>
<text x="1316.4" y="205" font-family='"Liberation Sans", sans-serif' font-size="10.6" fill="#222" text-anchor="middle" font-weight="bold" font-style="normal" textLength="95" lengthAdjust="spacingAndGlyphs" >pair at U = 1.23 V</text>
<line x1="1310" y1="271" x2="1334" y2="254.5" stroke="#dcdcdc" stroke-width="3.8" stroke-linecap="butt"/>
<line x1="1367.4" y1="271.6" x2="1345.4" y2="254.5" stroke="#dcdcdc" stroke-width="3.8" stroke-linecap="butt"/>
<line x1="1322.5" y1="262.4" x2="1334" y2="254.5" stroke="#e8474a" stroke-width="3.8" stroke-linecap="butt"/>
<line x1="1356.2" y1="262.8" x2="1345.4" y2="254.5" stroke="#e8474a" stroke-width="3.8" stroke-linecap="butt"/>
<circle cx="1308.6" cy="272.0" r="9.6" fill="url(#gH)"/>
<circle cx="1368.6" cy="272.8" r="9.6" fill="url(#gH)"/>
<circle cx="1339.8" cy="250.0" r="14.9" fill="#e8474a"/>
<rect x="97.8" y="545.4" width="324.59999999999997" height="367.4" fill="url(#gD)" />
<path d="M97.8 545.4 L422.4 545.4 L422.4 912.8" fill="none" stroke="#a0a0a2" stroke-width="1"/>
<line x1="97.8" y1="544.9" x2="97.8" y2="913.5999999999999" stroke="#4a4a4c" stroke-width="1.5" stroke-linecap="butt"/>
<line x1="97.1" y1="912.8" x2="422.9" y2="912.8" stroke="#4a4a4c" stroke-width="1.6" stroke-linecap="butt"/>
<line x1="91.4" y1="544.6" x2="97.8" y2="544.6" stroke="#4a4a4c" stroke-width="1.2" stroke-linecap="butt"/>
<text x="84.4" y="551.4" font-family='"Liberation Sans", sans-serif' font-size="19" fill="#4b4b4d" text-anchor="end" font-weight="normal" font-style="normal" >2</text>
<line x1="91.4" y1="667.1" x2="97.8" y2="667.1" stroke="#4a4a4c" stroke-width="1.2" stroke-linecap="butt"/>
<text x="84.4" y="673.9" font-family='"Liberation Sans", sans-serif' font-size="19" fill="#4b4b4d" text-anchor="end" font-weight="normal" font-style="normal" >1</text>
<line x1="91.4" y1="789.6" x2="97.8" y2="789.6" stroke="#4a4a4c" stroke-width="1.2" stroke-linecap="butt"/>
<text x="84.4" y="796.4" font-family='"Liberation Sans", sans-serif' font-size="19" fill="#4b4b4d" text-anchor="end" font-weight="normal" font-style="normal" >0</text>
<line x1="91.4" y1="912.1" x2="97.8" y2="912.1" stroke="#4a4a4c" stroke-width="1.2" stroke-linecap="butt"/>
<text x="84.4" y="918.9" font-family='"Liberation Sans", sans-serif' font-size="19" fill="#4b4b4d" text-anchor="end" font-weight="normal" font-style="normal" >−1</text>
<line x1="94.2" y1="605.85" x2="97.8" y2="605.85" stroke="#4a4a4c" stroke-width="1.0" stroke-linecap="butt"/>
<line x1="94.2" y1="728.35" x2="97.8" y2="728.35" stroke="#4a4a4c" stroke-width="1.0" stroke-linecap="butt"/>
<line x1="94.2" y1="850.85" x2="97.8" y2="850.85" stroke="#4a4a4c" stroke-width="1.0" stroke-linecap="butt"/>
<line x1="110.4" y1="912.8" x2="110.4" y2="918.4" stroke="#4a4a4c" stroke-width="1.0" stroke-linecap="butt"/>
<text x="110.4" y="934.8" font-family='"Liberation Sans", sans-serif' font-size="13.2" fill="#5a5a5c" text-anchor="middle" font-weight="normal" font-style="normal" >Au</text>
<line x1="132.01" y1="912.8" x2="132.01" y2="918.4" stroke="#4a4a4c" stroke-width="1.0" stroke-linecap="butt"/>
<text x="132.01" y="934.8" font-family='"Liberation Sans", sans-serif' font-size="13.2" fill="#5a5a5c" text-anchor="middle" font-weight="normal" font-style="normal" >Pt</text>
<line x1="153.62" y1="912.8" x2="153.62" y2="918.4" stroke="#4a4a4c" stroke-width="1.0" stroke-linecap="butt"/>
<text x="153.62" y="934.8" font-family='"Liberation Sans", sans-serif' font-size="13.2" fill="#5a5a5c" text-anchor="middle" font-weight="normal" font-style="normal" >Ir</text>
<line x1="175.23000000000002" y1="912.8" x2="175.23000000000002" y2="918.4" stroke="#4a4a4c" stroke-width="1.0" stroke-linecap="butt"/>
<text x="175.23000000000002" y="934.8" font-family='"Liberation Sans", sans-serif' font-size="13.2" fill="#5a5a5c" text-anchor="middle" font-weight="normal" font-style="normal" >Pd</text>
<line x1="196.84" y1="912.8" x2="196.84" y2="918.4" stroke="#4a4a4c" stroke-width="1.0" stroke-linecap="butt"/>
<text x="196.84" y="934.8" font-family='"Liberation Sans", sans-serif' font-size="13.2" fill="#5a5a5c" text-anchor="middle" font-weight="normal" font-style="normal" >Hg</text>
<line x1="218.45" y1="912.8" x2="218.45" y2="918.4" stroke="#4a4a4c" stroke-width="1.0" stroke-linecap="butt"/>
<text x="218.45" y="934.8" font-family='"Liberation Sans", sans-serif' font-size="13.2" fill="#5a5a5c" text-anchor="middle" font-weight="normal" font-style="normal" >Ag</text>
<line x1="240.06" y1="912.8" x2="240.06" y2="918.4" stroke="#4a4a4c" stroke-width="1.0" stroke-linecap="butt"/>
<text x="240.06" y="934.8" font-family='"Liberation Sans", sans-serif' font-size="13.2" fill="#5a5a5c" text-anchor="middle" font-weight="normal" font-style="normal" >Rh</text>
<line x1="261.66999999999996" y1="912.8" x2="261.66999999999996" y2="918.4" stroke="#4a4a4c" stroke-width="1.0" stroke-linecap="butt"/>
<text x="261.66999999999996" y="934.8" font-family='"Liberation Sans", sans-serif' font-size="13.2" fill="#5a5a5c" text-anchor="middle" font-weight="normal" font-style="normal" >Ru</text>
<line x1="283.28" y1="912.8" x2="283.28" y2="918.4" stroke="#4a4a4c" stroke-width="1.0" stroke-linecap="butt"/>
<text x="283.28" y="934.8" font-family='"Liberation Sans", sans-serif' font-size="13.2" fill="#5a5a5c" text-anchor="middle" font-weight="normal" font-style="normal" >Cu</text>
<line x1="304.89" y1="912.8" x2="304.89" y2="918.4" stroke="#4a4a4c" stroke-width="1.0" stroke-linecap="butt"/>
<text x="304.89" y="934.8" font-family='"Liberation Sans", sans-serif' font-size="13.2" fill="#5a5a5c" text-anchor="middle" font-weight="normal" font-style="normal" >Co</text>
<line x1="326.5" y1="912.8" x2="326.5" y2="918.4" stroke="#4a4a4c" stroke-width="1.0" stroke-linecap="butt"/>
<text x="326.5" y="934.8" font-family='"Liberation Sans", sans-serif' font-size="13.2" fill="#5a5a5c" text-anchor="middle" font-weight="normal" font-style="normal" >Ni</text>
<line x1="348.11" y1="912.8" x2="348.11" y2="918.4" stroke="#4a4a4c" stroke-width="1.0" stroke-linecap="butt"/>
<text x="348.11" y="934.8" font-family='"Liberation Sans", sans-serif' font-size="13.2" fill="#5a5a5c" text-anchor="middle" font-weight="normal" font-style="normal" >Pb</text>
<line x1="369.72" y1="912.8" x2="369.72" y2="918.4" stroke="#4a4a4c" stroke-width="1.0" stroke-linecap="butt"/>
<text x="369.72" y="934.8" font-family='"Liberation Sans", sans-serif' font-size="13.2" fill="#5a5a5c" text-anchor="middle" font-weight="normal" font-style="normal" >Sn</text>
<line x1="391.33000000000004" y1="912.8" x2="391.33000000000004" y2="918.4" stroke="#4a4a4c" stroke-width="1.0" stroke-linecap="butt"/>
<text x="391.33000000000004" y="934.8" font-family='"Liberation Sans", sans-serif' font-size="13.2" fill="#5a5a5c" text-anchor="middle" font-weight="normal" font-style="normal" >In</text>
<line x1="412.93999999999994" y1="912.8" x2="412.93999999999994" y2="918.4" stroke="#4a4a4c" stroke-width="1.0" stroke-linecap="butt"/>
<text x="412.93999999999994" y="934.8" font-family='"Liberation Sans", sans-serif' font-size="13.2" fill="#5a5a5c" text-anchor="middle" font-weight="normal" font-style="normal" >Zn</text>
<polyline points="110.4,582.4 132.0,645.2 153.6,648.9 175.2,673.6 196.8,686.0 218.4,693.3 240.1,716.7 261.7,735.2 283.3,749.6 304.9,825.0 326.5,821.2 348.1,805.2 369.7,806.8 391.3,807.7 412.9,884.2" fill="none" stroke="#2c2c2e" stroke-width="1.2"/>
<circle cx="110.4" cy="582.4" r="4.1" fill="#2b4ca0"/>
<circle cx="132.0" cy="645.2" r="4.1" fill="#2b4ca0"/>
<circle cx="153.6" cy="648.9" r="4.1" fill="#2b4ca0"/>
<circle cx="175.2" cy="673.6" r="4.1" fill="#2b4ca0"/>
<circle cx="196.8" cy="686.0" r="4.1" fill="#2b4ca0"/>
<circle cx="218.4" cy="693.3" r="4.1" fill="#2b4ca0"/>
<circle cx="240.1" cy="716.7" r="4.1" fill="#2b4ca0"/>
<circle cx="261.7" cy="735.2" r="4.1" fill="#2b4ca0"/>
<circle cx="283.3" cy="749.6" r="4.1" fill="#2b4ca0"/>
<circle cx="304.9" cy="825.0" r="4.1" fill="#2b4ca0"/>
<circle cx="326.5" cy="821.2" r="4.1" fill="#2b4ca0"/>
<circle cx="348.1" cy="805.2" r="4.1" fill="#2b4ca0"/>
<circle cx="369.7" cy="806.8" r="4.1" fill="#2b4ca0"/>
<circle cx="391.3" cy="807.7" r="4.1" fill="#2b4ca0"/>
<circle cx="412.9" cy="884.2" r="4.1" fill="#2b4ca0"/>
<text x="262" y="966.2" font-family='"Liberation Sans", sans-serif' font-size="18.6" fill="#4b4b4d" text-anchor="middle" font-weight="normal" font-style="normal" textLength="67.4" lengthAdjust="spacingAndGlyphs" >Element</text>
<text transform="translate(44.6 724.5) rotate(-90)" text-anchor="middle" font-family='"Liberation Sans", sans-serif' font-size="17.5" fill="#4b4b4d" textLength="107" lengthAdjust="spacingAndGlyphs"><tspan font-style="italic">U</tspan><tspan dy="-6" font-size="11.5">0</tspan><tspan dy="6"> (V (RHE))</tspan></text>
<path d="M389.6 742.6 L389.6 668.8 L381.2 668.8 L396.2 652.8 L411.2 668.8 L402.8 668.8 L402.8 742.6 Z" fill="#1f1d1e"/>
<text transform="translate(378.4 704.4) rotate(-90)" text-anchor="middle" font-family='"Liberation Sans", sans-serif' font-size="16.5" fill="#3a3a3c" textLength="70" lengthAdjust="spacingAndGlyphs">Stability</text>
<rect x="534.2" y="545.4" width="302.79999999999995" height="365.20000000000005" fill="url(#gE)" />
<path d="M534.2 545.4 L837.0 545.4 L837.0 910.6" fill="none" stroke="#a4a4a6" stroke-width="0.9"/>
<line x1="534.2" y1="544.9" x2="534.2" y2="911.3000000000001" stroke="#4a4a4c" stroke-width="1.4" stroke-linecap="butt"/>
<line x1="533.5" y1="910.6" x2="837.4" y2="910.6" stroke="#4a4a4c" stroke-width="1.4" stroke-linecap="butt"/>
<line x1="527.8" y1="549.6" x2="534.2" y2="549.6" stroke="#4a4a4c" stroke-width="1.2" stroke-linecap="butt"/>
<text x="518.8" y="556.2" font-family='"Liberation Sans", sans-serif' font-size="18.4" fill="#4b4b4d" text-anchor="end" font-weight="normal" font-style="normal" textLength="26" lengthAdjust="spacingAndGlyphs" >5.0</text>
<line x1="527.8" y1="669.95" x2="534.2" y2="669.95" stroke="#4a4a4c" stroke-width="1.2" stroke-linecap="butt"/>
<text x="518.8" y="676.5500000000001" font-family='"Liberation Sans", sans-serif' font-size="18.4" fill="#4b4b4d" text-anchor="end" font-weight="normal" font-style="normal" textLength="26" lengthAdjust="spacingAndGlyphs" >4.5</text>
<line x1="527.8" y1="790.3" x2="534.2" y2="790.3" stroke="#4a4a4c" stroke-width="1.2" stroke-linecap="butt"/>
<text x="518.8" y="796.9" font-family='"Liberation Sans", sans-serif' font-size="18.4" fill="#4b4b4d" text-anchor="end" font-weight="normal" font-style="normal" textLength="26" lengthAdjust="spacingAndGlyphs" >4.0</text>
<line x1="527.8" y1="910.65" x2="534.2" y2="910.65" stroke="#4a4a4c" stroke-width="1.2" stroke-linecap="butt"/>
<text x="518.8" y="917.25" font-family='"Liberation Sans", sans-serif' font-size="18.4" fill="#4b4b4d" text-anchor="end" font-weight="normal" font-style="normal" textLength="26" lengthAdjust="spacingAndGlyphs" >3.5</text>
<line x1="530.6" y1="609.775" x2="534.2" y2="609.775" stroke="#4a4a4c" stroke-width="1.0" stroke-linecap="butt"/>
<line x1="530.6" y1="730.125" x2="534.2" y2="730.125" stroke="#4a4a4c" stroke-width="1.0" stroke-linecap="butt"/>
<line x1="530.6" y1="850.475" x2="534.2" y2="850.475" stroke="#4a4a4c" stroke-width="1.0" stroke-linecap="butt"/>
<line x1="534.1199999999999" y1="910.6" x2="534.1199999999999" y2="917.2" stroke="#4a4a4c" stroke-width="1.2" stroke-linecap="butt"/>
<text x="534.3199999999999" y="939.8" font-family='"Liberation Sans", sans-serif' font-size="18.4" fill="#4b4b4d" text-anchor="middle" font-weight="normal" font-style="normal" >−4</text>
<line x1="638.9599999999999" y1="910.6" x2="638.9599999999999" y2="917.2" stroke="#4a4a4c" stroke-width="1.2" stroke-linecap="butt"/>
<text x="639.16" y="939.8" font-family='"Liberation Sans", sans-serif' font-size="18.4" fill="#4b4b4d" text-anchor="middle" font-weight="normal" font-style="normal" >−2</text>
<line x1="743.8" y1="910.6" x2="743.8" y2="917.2" stroke="#4a4a4c" stroke-width="1.2" stroke-linecap="butt"/>
<text x="745.1999999999999" y="939.8" font-family='"Liberation Sans", sans-serif' font-size="18.4" fill="#4b4b4d" text-anchor="middle" font-weight="normal" font-style="normal" >0</text>
<line x1="586.54" y1="910.6" x2="586.54" y2="914.2" stroke="#4a4a4c" stroke-width="1.0" stroke-linecap="butt"/>
<line x1="691.38" y1="910.6" x2="691.38" y2="914.2" stroke="#4a4a4c" stroke-width="1.0" stroke-linecap="butt"/>
<line x1="796.2199999999999" y1="910.6" x2="796.2199999999999" y2="914.2" stroke="#4a4a4c" stroke-width="1.0" stroke-linecap="butt"/>
<line x1="534.2" y1="742.5" x2="837.0" y2="742.5" stroke="#f2a468" stroke-width="1.2" stroke-dasharray="5.5 3" stroke-linecap="butt"/>
<circle cx="738" cy="587.8" r="4.1" fill="#1d1b1c"/>
<circle cx="742" cy="628.8" r="4.1" fill="#1d1b1c"/>
<circle cx="765" cy="689.2" r="4.1" fill="#1d1b1c"/>
<circle cx="793.4" cy="757.0" r="4.1" fill="#1d1b1c"/>
<circle cx="621.7" cy="810.0" r="4.1" fill="#1d1b1c"/>
<path d="M663.5 627.6 L673.1 627.6 L668.3 619.2 Z" fill="#2b4ca0"/>
<path d="M700.5 685.5 L710.1 685.5 L705.3 677.1 Z" fill="#2b4ca0"/>
<path d="M718.8 685.5 L728.4 685.5 L723.6 677.1 Z" fill="#2b4ca0"/>
<path d="M736.6 693.2 L746.2 693.2 L741.4 684.8 Z" fill="#2b4ca0"/>
<path d="M766.8 693.2 L776.4 693.2 L771.6 684.8 Z" fill="#2b4ca0"/>
<path d="M712.6 700.4 L722.2 700.4 L717.4 692.0 Z" fill="#2b4ca0"/>
<path d="M710.9 714.8 L720.5 714.8 L715.7 706.4 Z" fill="#2b4ca0"/>
<path d="M740.9 799.1 L750.5 799.1 L745.7 790.7 Z" fill="#2b4ca0"/>
<path d="M808.7 786.6 L818.3 786.6 L813.5 778.2 Z" fill="#2b4ca0"/>
<rect x="725.4" y="629.8" width="7.0" height="7.0" fill="#e5202e" />
<rect x="730.2" y="671.1" width="7.0" height="7.0" fill="#e5202e" />
<rect x="744.4" y="717.4" width="6.4" height="6.4" fill="#e5202e" />
<rect x="603.2" y="720.0" width="6.0" height="6.0" fill="#1f8a4c" />
<text x="752.8" y="635" font-family='"Liberation Sans", sans-serif' font-size="19.5" fill="#333335" text-anchor="start" font-weight="normal" font-style="normal" textLength="55.4" lengthAdjust="spacingAndGlyphs" >Pd/Au</text>
<text x="609.4" y="716.2" font-family='"Liberation Sans", sans-serif' font-size="19.5" fill="#2a9058" text-anchor="start" font-weight="normal" font-style="normal" textLength="49" lengthAdjust="spacingAndGlyphs" >PtHg<tspan dy="4" font-size="13.5">4</tspan></text>
<text x="757.4" y="725.2" font-family='"Liberation Sans", sans-serif' font-size="19.5" fill="#e0313c" text-anchor="start" font-weight="normal" font-style="normal" textLength="48" lengthAdjust="spacingAndGlyphs" >Ag<tspan dy="4" font-size="13.5">3</tspan><tspan dy="-4">Pt</tspan></text>
<path d="M544.8 672.8 L557 672.8 L557 713.6 L563.2 713.6 L550.9 726.8 L538.6 713.6 L544.8 713.6 Z" fill="#e97c27"/>
<path d="M544.6 813 L557.2 813 L557.2 772.4 L563.4 772.4 L550.9 759.4 L538.4 772.4 L544.6 772.4 Z" fill="#e97c27"/>
<text x="572.4" y="774" font-family='"Liberation Sans", sans-serif' font-size="18.2" fill="#ea8434" text-anchor="start" font-weight="normal" font-style="normal" textLength="63.8" lengthAdjust="spacingAndGlyphs" >Activity</text>
<text x="575.4" y="876" font-family='"Liberation Sans", sans-serif' font-size="18.2" fill="#3a3a3c" text-anchor="start" font-weight="normal" font-style="normal" textLength="66.8" lengthAdjust="spacingAndGlyphs" >Stability</text>
<path d="M549.6 893.4 L563 880.8 L563 887 L621.8 887 L621.8 899.8 L563 899.8 L563 906.2 Z" fill="#1f1d1e"/>
<text x="639.6" y="969.8" font-family='"Liberation Sans", sans-serif' font-size="18.4" fill="#4b4b4d" text-anchor="start" font-weight="normal" font-style="normal" textLength="91.8" lengthAdjust="spacingAndGlyphs" >Δ<tspan font-style="italic">E</tspan><tspan dy="4.5" font-size="12.5">alloy</tspan><tspan dy="-4.5"> (eV)</tspan></text>
<text transform="translate(474.4 730.6) rotate(-90)" text-anchor="middle" font-family='"Liberation Sans", sans-serif' font-size="18" fill="#4b4b4d" textLength="114" lengthAdjust="spacingAndGlyphs">Δ<tspan font-style="italic">G</tspan><tspan dy="4.5" font-size="12">HOO*</tspan><tspan dy="-4.5"> (eV)</tspan></text>
<rect x="924.5" y="541.6" width="461.9000000000001" height="368.29999999999995" fill="url(#gF)" />
<line x1="924.5" y1="541.2" x2="924.5" y2="910.5" stroke="#7c7d7f" stroke-width="1.0" stroke-linecap="butt"/>
<line x1="1386.6000000000001" y1="541.6" x2="1386.6000000000001" y2="909.9" stroke="#76787a" stroke-width="1.3" stroke-linecap="butt"/>
<line x1="923.9" y1="909.9" x2="1387.0" y2="909.9" stroke="#58585a" stroke-width="1.3" stroke-linecap="butt"/>
<line x1="923.9" y1="541.6" x2="1387.0" y2="541.6" stroke="#8a8a8c" stroke-width="1.0" stroke-linecap="butt"/>
<line x1="918.4" y1="909.9" x2="924.5" y2="909.9" stroke="#58585a" stroke-width="1.2" stroke-linecap="butt"/>
<text x="911" y="916.5" font-family='"Liberation Sans", sans-serif' font-size="18.6" fill="#4b4b4d" text-anchor="end" font-weight="normal" font-style="normal" textLength="26.4" lengthAdjust="spacingAndGlyphs" >0.0</text>
<line x1="921.2" y1="883.64" x2="924.5" y2="883.64" stroke="#58585a" stroke-width="1.0" stroke-linecap="butt"/>
<line x1="918.4" y1="857.38" x2="924.5" y2="857.38" stroke="#58585a" stroke-width="1.2" stroke-linecap="butt"/>
<text x="911" y="863.98" font-family='"Liberation Sans", sans-serif' font-size="18.6" fill="#4b4b4d" text-anchor="end" font-weight="normal" font-style="normal" textLength="26.4" lengthAdjust="spacingAndGlyphs" >0.2</text>
<line x1="921.2" y1="831.12" x2="924.5" y2="831.12" stroke="#58585a" stroke-width="1.0" stroke-linecap="butt"/>
<line x1="918.4" y1="804.8599999999999" x2="924.5" y2="804.8599999999999" stroke="#58585a" stroke-width="1.2" stroke-linecap="butt"/>
<text x="911" y="811.4599999999999" font-family='"Liberation Sans", sans-serif' font-size="18.6" fill="#4b4b4d" text-anchor="end" font-weight="normal" font-style="normal" textLength="26.4" lengthAdjust="spacingAndGlyphs" >0.4</text>
<line x1="921.2" y1="778.5999999999999" x2="924.5" y2="778.5999999999999" stroke="#58585a" stroke-width="1.0" stroke-linecap="butt"/>
<line x1="918.4" y1="752.3399999999999" x2="924.5" y2="752.3399999999999" stroke="#58585a" stroke-width="1.2" stroke-linecap="butt"/>
<text x="911" y="758.9399999999999" font-family='"Liberation Sans", sans-serif' font-size="18.6" fill="#4b4b4d" text-anchor="end" font-weight="normal" font-style="normal" textLength="26.4" lengthAdjust="spacingAndGlyphs" >0.6</text>
<line x1="921.2" y1="726.0799999999999" x2="924.5" y2="726.0799999999999" stroke="#58585a" stroke-width="1.0" stroke-linecap="butt"/>
<line x1="918.4" y1="699.8199999999999" x2="924.5" y2="699.8199999999999" stroke="#58585a" stroke-width="1.2" stroke-linecap="butt"/>
<text x="911" y="706.42" font-family='"Liberation Sans", sans-serif' font-size="18.6" fill="#4b4b4d" text-anchor="end" font-weight="normal" font-style="normal" textLength="26.4" lengthAdjust="spacingAndGlyphs" >0.8</text>
<line x1="921.2" y1="673.56" x2="924.5" y2="673.56" stroke="#58585a" stroke-width="1.0" stroke-linecap="butt"/>
<line x1="918.4" y1="647.3" x2="924.5" y2="647.3" stroke="#58585a" stroke-width="1.2" stroke-linecap="butt"/>
<text x="911" y="653.9" font-family='"Liberation Sans", sans-serif' font-size="18.6" fill="#4b4b4d" text-anchor="end" font-weight="normal" font-style="normal" textLength="26.4" lengthAdjust="spacingAndGlyphs" >1.0</text>
<line x1="921.2" y1="621.04" x2="924.5" y2="621.04" stroke="#58585a" stroke-width="1.0" stroke-linecap="butt"/>
<line x1="918.4" y1="594.78" x2="924.5" y2="594.78" stroke="#58585a" stroke-width="1.2" stroke-linecap="butt"/>
<text x="911" y="601.38" font-family='"Liberation Sans", sans-serif' font-size="18.6" fill="#4b4b4d" text-anchor="end" font-weight="normal" font-style="normal" textLength="26.4" lengthAdjust="spacingAndGlyphs" >1.2</text>
<line x1="921.2" y1="568.5199999999999" x2="924.5" y2="568.5199999999999" stroke="#58585a" stroke-width="1.0" stroke-linecap="butt"/>
<line x1="918.4" y1="542.26" x2="924.5" y2="542.26" stroke="#58585a" stroke-width="1.2" stroke-linecap="butt"/>
<text x="911" y="548.86" font-family='"Liberation Sans", sans-serif' font-size="18.6" fill="#4b4b4d" text-anchor="end" font-weight="normal" font-style="normal" textLength="26.4" lengthAdjust="spacingAndGlyphs" >1.4</text>
<line x1="924.5" y1="909.9" x2="924.5" y2="916.1" stroke="#58585a" stroke-width="1.2" stroke-linecap="butt"/>
<line x1="924.5" y1="541.6" x2="924.5" y2="535.6" stroke="#58585a" stroke-width="1.2" stroke-linecap="butt"/>
<text x="925.1" y="939.4" font-family='"Liberation Sans", sans-serif' font-size="17.6" fill="#4b4b4d" text-anchor="middle" font-weight="normal" font-style="normal" textLength="25.4" lengthAdjust="spacingAndGlyphs" >0.0</text>
<text x="924.9" y="526.0" font-family='"Liberation Sans", sans-serif' font-size="17.6" fill="#4b4b4d" text-anchor="middle" font-weight="normal" font-style="normal" textLength="25.4" lengthAdjust="spacingAndGlyphs" >3.2</text>
<line x1="950.16" y1="909.9" x2="950.16" y2="913.3" stroke="#58585a" stroke-width="1.0" stroke-linecap="butt"/>
<line x1="950.16" y1="541.6" x2="950.16" y2="538.4" stroke="#58585a" stroke-width="1.0" stroke-linecap="butt"/>
<line x1="975.82" y1="909.9" x2="975.82" y2="916.1" stroke="#58585a" stroke-width="1.2" stroke-linecap="butt"/>
<line x1="975.82" y1="541.6" x2="975.82" y2="535.6" stroke="#58585a" stroke-width="1.2" stroke-linecap="butt"/>
<text x="976.4200000000001" y="939.4" font-family='"Liberation Sans", sans-serif' font-size="17.6" fill="#4b4b4d" text-anchor="middle" font-weight="normal" font-style="normal" textLength="25.4" lengthAdjust="spacingAndGlyphs" >0.2</text>
<text x="976.22" y="526.0" font-family='"Liberation Sans", sans-serif' font-size="17.6" fill="#4b4b4d" text-anchor="middle" font-weight="normal" font-style="normal" textLength="25.4" lengthAdjust="spacingAndGlyphs" >3.4</text>
<line x1="1001.48" y1="909.9" x2="1001.48" y2="913.3" stroke="#58585a" stroke-width="1.0" stroke-linecap="butt"/>
<line x1="1001.48" y1="541.6" x2="1001.48" y2="538.4" stroke="#58585a" stroke-width="1.0" stroke-linecap="butt"/>
<line x1="1027.14" y1="909.9" x2="1027.14" y2="916.1" stroke="#58585a" stroke-width="1.2" stroke-linecap="butt"/>
<line x1="1027.14" y1="541.6" x2="1027.14" y2="535.6" stroke="#58585a" stroke-width="1.2" stroke-linecap="butt"/>
<text x="1027.74" y="939.4" font-family='"Liberation Sans", sans-serif' font-size="17.6" fill="#4b4b4d" text-anchor="middle" font-weight="normal" font-style="normal" textLength="25.4" lengthAdjust="spacingAndGlyphs" >0.4</text>
<text x="1027.5400000000002" y="526.0" font-family='"Liberation Sans", sans-serif' font-size="17.6" fill="#4b4b4d" text-anchor="middle" font-weight="normal" font-style="normal" textLength="25.4" lengthAdjust="spacingAndGlyphs" >3.6</text>
<line x1="1052.8" y1="909.9" x2="1052.8" y2="913.3" stroke="#58585a" stroke-width="1.0" stroke-linecap="butt"/>
<line x1="1052.8" y1="541.6" x2="1052.8" y2="538.4" stroke="#58585a" stroke-width="1.0" stroke-linecap="butt"/>
<line x1="1078.46" y1="909.9" x2="1078.46" y2="916.1" stroke="#58585a" stroke-width="1.2" stroke-linecap="butt"/>
<line x1="1078.46" y1="541.6" x2="1078.46" y2="535.6" stroke="#58585a" stroke-width="1.2" stroke-linecap="butt"/>
<text x="1079.06" y="939.4" font-family='"Liberation Sans", sans-serif' font-size="17.6" fill="#4b4b4d" text-anchor="middle" font-weight="normal" font-style="normal" textLength="25.4" lengthAdjust="spacingAndGlyphs" >0.6</text>
<text x="1078.8600000000001" y="526.0" font-family='"Liberation Sans", sans-serif' font-size="17.6" fill="#4b4b4d" text-anchor="middle" font-weight="normal" font-style="normal" textLength="25.4" lengthAdjust="spacingAndGlyphs" >3.8</text>
<line x1="1104.1200000000001" y1="909.9" x2="1104.1200000000001" y2="913.3" stroke="#58585a" stroke-width="1.0" stroke-linecap="butt"/>
<line x1="1104.1200000000001" y1="541.6" x2="1104.1200000000001" y2="538.4" stroke="#58585a" stroke-width="1.0" stroke-linecap="butt"/>
<line x1="1129.78" y1="909.9" x2="1129.78" y2="916.1" stroke="#58585a" stroke-width="1.2" stroke-linecap="butt"/>
<line x1="1129.78" y1="541.6" x2="1129.78" y2="535.6" stroke="#58585a" stroke-width="1.2" stroke-linecap="butt"/>
<text x="1130.3799999999999" y="939.4" font-family='"Liberation Sans", sans-serif' font-size="17.6" fill="#4b4b4d" text-anchor="middle" font-weight="normal" font-style="normal" textLength="25.4" lengthAdjust="spacingAndGlyphs" >0.8</text>
<text x="1130.18" y="526.0" font-family='"Liberation Sans", sans-serif' font-size="17.6" fill="#4b4b4d" text-anchor="middle" font-weight="normal" font-style="normal" textLength="25.4" lengthAdjust="spacingAndGlyphs" >4.0</text>
<line x1="1155.44" y1="909.9" x2="1155.44" y2="913.3" stroke="#58585a" stroke-width="1.0" stroke-linecap="butt"/>
<line x1="1155.44" y1="541.6" x2="1155.44" y2="538.4" stroke="#58585a" stroke-width="1.0" stroke-linecap="butt"/>
<line x1="1181.1" y1="909.9" x2="1181.1" y2="916.1" stroke="#58585a" stroke-width="1.2" stroke-linecap="butt"/>
<line x1="1181.1" y1="541.6" x2="1181.1" y2="535.6" stroke="#58585a" stroke-width="1.2" stroke-linecap="butt"/>
<text x="1181.6999999999998" y="939.4" font-family='"Liberation Sans", sans-serif' font-size="17.6" fill="#4b4b4d" text-anchor="middle" font-weight="normal" font-style="normal" textLength="25.4" lengthAdjust="spacingAndGlyphs" >1.0</text>
<text x="1181.5" y="526.0" font-family='"Liberation Sans", sans-serif' font-size="17.6" fill="#4b4b4d" text-anchor="middle" font-weight="normal" font-style="normal" textLength="25.4" lengthAdjust="spacingAndGlyphs" >4.2</text>
<line x1="1206.76" y1="909.9" x2="1206.76" y2="913.3" stroke="#58585a" stroke-width="1.0" stroke-linecap="butt"/>
<line x1="1206.76" y1="541.6" x2="1206.76" y2="538.4" stroke="#58585a" stroke-width="1.0" stroke-linecap="butt"/>
<line x1="1232.42" y1="909.9" x2="1232.42" y2="916.1" stroke="#58585a" stroke-width="1.2" stroke-linecap="butt"/>
<line x1="1232.42" y1="541.6" x2="1232.42" y2="535.6" stroke="#58585a" stroke-width="1.2" stroke-linecap="butt"/>
<text x="1233.02" y="939.4" font-family='"Liberation Sans", sans-serif' font-size="17.6" fill="#4b4b4d" text-anchor="middle" font-weight="normal" font-style="normal" textLength="25.4" lengthAdjust="spacingAndGlyphs" >1.2</text>
<text x="1232.8200000000002" y="526.0" font-family='"Liberation Sans", sans-serif' font-size="17.6" fill="#4b4b4d" text-anchor="middle" font-weight="normal" font-style="normal" textLength="25.4" lengthAdjust="spacingAndGlyphs" >4.4</text>
<line x1="1258.0800000000002" y1="909.9" x2="1258.0800000000002" y2="913.3" stroke="#58585a" stroke-width="1.0" stroke-linecap="butt"/>
<line x1="1258.0800000000002" y1="541.6" x2="1258.0800000000002" y2="538.4" stroke="#58585a" stroke-width="1.0" stroke-linecap="butt"/>
<line x1="1283.74" y1="909.9" x2="1283.74" y2="916.1" stroke="#58585a" stroke-width="1.2" stroke-linecap="butt"/>
<line x1="1283.74" y1="541.6" x2="1283.74" y2="535.6" stroke="#58585a" stroke-width="1.2" stroke-linecap="butt"/>
<text x="1284.34" y="939.4" font-family='"Liberation Sans", sans-serif' font-size="17.6" fill="#4b4b4d" text-anchor="middle" font-weight="normal" font-style="normal" textLength="25.4" lengthAdjust="spacingAndGlyphs" >1.4</text>
<text x="1284.14" y="526.0" font-family='"Liberation Sans", sans-serif' font-size="17.6" fill="#4b4b4d" text-anchor="middle" font-weight="normal" font-style="normal" textLength="25.4" lengthAdjust="spacingAndGlyphs" >4.6</text>
<line x1="1309.4" y1="909.9" x2="1309.4" y2="913.3" stroke="#58585a" stroke-width="1.0" stroke-linecap="butt"/>
<line x1="1309.4" y1="541.6" x2="1309.4" y2="538.4" stroke="#58585a" stroke-width="1.0" stroke-linecap="butt"/>
<line x1="1335.06" y1="909.9" x2="1335.06" y2="916.1" stroke="#58585a" stroke-width="1.2" stroke-linecap="butt"/>
<line x1="1335.06" y1="541.6" x2="1335.06" y2="535.6" stroke="#58585a" stroke-width="1.2" stroke-linecap="butt"/>
<text x="1335.6599999999999" y="939.4" font-family='"Liberation Sans", sans-serif' font-size="17.6" fill="#4b4b4d" text-anchor="middle" font-weight="normal" font-style="normal" textLength="25.4" lengthAdjust="spacingAndGlyphs" >1.6</text>
<text x="1335.46" y="526.0" font-family='"Liberation Sans", sans-serif' font-size="17.6" fill="#4b4b4d" text-anchor="middle" font-weight="normal" font-style="normal" textLength="25.4" lengthAdjust="spacingAndGlyphs" >4.8</text>
<line x1="1360.72" y1="909.9" x2="1360.72" y2="913.3" stroke="#58585a" stroke-width="1.0" stroke-linecap="butt"/>
<line x1="1360.72" y1="541.6" x2="1360.72" y2="538.4" stroke="#58585a" stroke-width="1.0" stroke-linecap="butt"/>
<line x1="1386.38" y1="909.9" x2="1386.38" y2="916.1" stroke="#58585a" stroke-width="1.2" stroke-linecap="butt"/>
<line x1="1386.38" y1="541.6" x2="1386.38" y2="535.6" stroke="#58585a" stroke-width="1.2" stroke-linecap="butt"/>
<text x="1386.98" y="939.4" font-family='"Liberation Sans", sans-serif' font-size="17.6" fill="#4b4b4d" text-anchor="middle" font-weight="normal" font-style="normal" textLength="25.4" lengthAdjust="spacingAndGlyphs" >1.8</text>
<text x="1386.7800000000002" y="526.0" font-family='"Liberation Sans", sans-serif' font-size="17.6" fill="#4b4b4d" text-anchor="middle" font-weight="normal" font-style="normal" textLength="25.4" lengthAdjust="spacingAndGlyphs" >5.0</text>
<text x="1099.8" y="492.4" font-family='"Liberation Sans", sans-serif' font-size="18.2" fill="#4b4b4d" text-anchor="start" font-weight="normal" font-style="normal" textLength="112" lengthAdjust="spacingAndGlyphs" >Δ<tspan font-style="italic">G</tspan><tspan dy="4.5" font-size="12.4">HOO*</tspan><tspan dy="-4.5"> (eV)</tspan></text>
<text x="1104.4" y="970" font-family='"Liberation Sans", sans-serif' font-size="18.2" fill="#4b4b4d" text-anchor="start" font-weight="normal" font-style="normal" textLength="100.4" lengthAdjust="spacingAndGlyphs" >Δ<tspan font-style="italic">G</tspan><tspan dy="4.5" font-size="12.4">HO*</tspan><tspan dy="-4.5"> (eV)</tspan></text>
<text transform="translate(871.2 726) rotate(-90)" text-anchor="middle" font-family='"Liberation Sans", sans-serif' font-size="18" fill="#4b4b4d" textLength="44"><tspan font-style="italic">U</tspan> (V)</text>
<line x1="924.5" y1="586.3" x2="1386.4" y2="586.3" stroke="#3c3c3e" stroke-width="1.9" stroke-dasharray="8.5 8.2" stroke-dashoffset="3.6"/>
<line x1="929.3" y1="725.8" x2="1386.4" y2="725.8" stroke="#3c3c3e" stroke-width="2.0" stroke-dasharray="3 7.06"/>
<polyline points="924.5,909.9 1145.4,683.8 1186.2,726.1" fill="none" stroke="#e8525a" stroke-width="1.5"/>
<polyline points="1008.2,909.9 1186.2,726.1 1364.6,909.9" fill="none" stroke="#3c5aaa" stroke-width="1.5"/>
<path d="M1120.8 704.8000000000001 L1129.2 703.6 M1124.6 699.8000000000001 L1125.4 708.6 M1122.6 701.6 L1127.4 706.8000000000001" stroke="#5b3f9e" stroke-width="1.5" fill="none"/>
<path d="M1120.6 789.0 L1129.0 787.8 M1124.3999999999999 784.0 L1125.2 792.8 M1122.3999999999999 785.8 L1127.2 791.0" stroke="#5b3f9e" stroke-width="1.5" fill="none"/>
<path d="M1092.0 733.6 L1102.0 733.6 M1097.0 728.6 L1097.0 738.6 M1093.2 729.8000000000001 L1100.8 737.4 M1093.2 737.4 L1100.8 729.8000000000001" stroke="#d63e98" stroke-width="2" fill="none"/>
<circle cx="1097.0" cy="733.6" r="2.6" fill="#d63e98"/>
<path d="M1091.8 817.8 L1101.8 817.8 M1096.8 812.8 L1096.8 822.8 M1093.0 814.0 L1100.6 821.5999999999999 M1093.0 821.5999999999999 L1100.6 814.0" stroke="#d63e98" stroke-width="2" fill="none"/>
<circle cx="1096.8" cy="817.8" r="2.6" fill="#d63e98"/>
<rect x="1216.0" y="737.6" width="6.8" height="6.8" fill="#147a40" />
<circle cx="1250.0" cy="833.2" r="4.6" fill="#e9a01f"/>
<path d="M1348.1 849.0 L1358.7 849.0 L1353.4 839.8 Z" fill="#1d1b1c"/>
<text x="1095.6" y="704" font-family='"Liberation Sans", sans-serif' font-size="18.4" fill="#7b55a8" text-anchor="start" font-weight="normal" font-style="normal" textLength="15.6" lengthAdjust="spacingAndGlyphs" >Pt</text>
<text x="1138.4" y="802.4" font-family='"Liberation Sans", sans-serif' font-size="18.4" fill="#7b55a8" text-anchor="start" font-weight="normal" font-style="normal" textLength="15.6" lengthAdjust="spacingAndGlyphs" >Pt</text>
<text x="1108.8" y="744.8" font-family='"Liberation Sans", sans-serif' font-size="18.4" fill="#d63e98" text-anchor="start" font-weight="normal" font-style="normal" textLength="19.4" lengthAdjust="spacingAndGlyphs" >Pd</text>
<text x="1109.6" y="834.6" font-family='"Liberation Sans", sans-serif' font-size="18.4" fill="#d63e98" text-anchor="start" font-weight="normal" font-style="normal" textLength="19.4" lengthAdjust="spacingAndGlyphs" >Pd</text>
<text x="1234.8" y="746.6" font-family='"Liberation Sans", sans-serif' font-size="19.4" fill="#1e8a52" text-anchor="start" font-weight="normal" font-style="normal" textLength="48.8" lengthAdjust="spacingAndGlyphs" >PtHg<tspan dy="4" font-size="13.5">4</tspan></text>
<text x="1258.4" y="851.4" font-family='"Liberation Sans", sans-serif' font-size="18.4" fill="#e9a01f" text-anchor="start" font-weight="normal" font-style="normal" textLength="22.6" lengthAdjust="spacingAndGlyphs" >Au</text>
<text x="1316.6" y="830.4" font-family='"Liberation Sans", sans-serif' font-size="18.8" fill="#333335" text-anchor="start" font-weight="normal" font-style="normal" textLength="53.4" lengthAdjust="spacingAndGlyphs" >Pd/Au</text>
<path d="M942.2 592.6 L954.8 592.6 L954.8 633.8 L961.2 633.8 L948.5 646.8 L935.8 633.8 L942.2 633.8 Z" fill="#df1f26"/>
<path d="M938.4 730.2 L951.0 730.2 L951.0 770.4 L957.8 770.4 L944.7 783.8 L931.8 770.4 L938.4 770.4 Z" fill="#2f8fd2"/>
<text x="939.2" y="566.4" font-family='"Liberation Sans", sans-serif' font-size="20.5" fill="#4a4a4c" text-anchor="start" font-weight="normal" font-style="italic" >U</text>
<text x="953.6" y="558.4" font-family='"Liberation Sans", sans-serif' font-size="12.6" fill="#4a4a4c" text-anchor="start" font-weight="normal" font-style="normal" >0</text>
<text x="953.0" y="576.6" font-family='"Liberation Sans", sans-serif' font-size="14.0" fill="#4a4a4c" text-anchor="start" font-weight="normal" font-style="normal" textLength="50" lengthAdjust="spacingAndGlyphs" >O<tspan dy="4" font-size="7.6">2</tspan><tspan dy="-4">/H</tspan><tspan dy="4" font-size="7.6">2</tspan><tspan dy="-4">O</tspan></text>
<text x="965.0" y="617.0" font-family='"Liberation Sans", sans-serif' font-size="21" fill="#222224" text-anchor="start" font-weight="normal" font-style="italic" >η</text>
<text x="976.6" y="621.2" font-family='"Liberation Sans", sans-serif' font-size="14.0" fill="#4a4a4c" text-anchor="start" font-weight="normal" font-style="normal" textLength="49" lengthAdjust="spacingAndGlyphs" >O<tspan dy="4" font-size="7.6">2</tspan><tspan dy="-4">/H</tspan><tspan dy="4" font-size="7.6">2</tspan><tspan dy="-4">O</tspan></text>
<text x="939.2" y="707.0" font-family='"Liberation Sans", sans-serif' font-size="20.5" fill="#4a4a4c" text-anchor="start" font-weight="normal" font-style="italic" >U</text>
<text x="953.6" y="699.0" font-family='"Liberation Sans", sans-serif' font-size="12.6" fill="#4a4a4c" text-anchor="start" font-weight="normal" font-style="normal" >0</text>
<text x="953.0" y="717.2" font-family='"Liberation Sans", sans-serif' font-size="14.0" fill="#4a4a4c" text-anchor="start" font-weight="normal" font-style="normal" textLength="55.6" lengthAdjust="spacingAndGlyphs" >O<tspan dy="4" font-size="7.6">2</tspan><tspan dy="-4">/H</tspan><tspan dy="4" font-size="7.6">2</tspan><tspan dy="-4">O</tspan><tspan dy="4" font-size="7.6">2</tspan></text>
<text x="967.6" y="759.2" font-family='"Liberation Sans", sans-serif' font-size="21" fill="#222224" text-anchor="start" font-weight="normal" font-style="italic" >η</text>
<text x="979.2" y="763.4" font-family='"Liberation Sans", sans-serif' font-size="14.0" fill="#4a4a4c" text-anchor="start" font-weight="normal" font-style="normal" textLength="54.2" lengthAdjust="spacingAndGlyphs" >O<tspan dy="4" font-size="7.6">2</tspan><tspan dy="-4">/H</tspan><tspan dy="4" font-size="7.6">2</tspan><tspan dy="-4">O</tspan><tspan dy="4" font-size="7.6">2</tspan></text>
<text x="20.5" y="52.6" font-family='"Liberation Sans", sans-serif' font-size="50" fill="#000" text-anchor="start" font-weight="normal" font-style="normal" >a</text>
<text x="463.5" y="58.6" font-family='"Liberation Sans", sans-serif' font-size="50" fill="#000" text-anchor="start" font-weight="normal" font-style="normal" >b</text>
<text x="923.5" y="51.8" font-family='"Liberation Sans", sans-serif' font-size="50" fill="#000" text-anchor="start" font-weight="normal" font-style="normal" >c</text>
<text x="23.5" y="516.4" font-family='"Liberation Sans", sans-serif' font-size="50" fill="#000" text-anchor="start" font-weight="normal" font-style="normal" >d</text>
<text x="463.5" y="512.8" font-family='"Liberation Sans", sans-serif' font-size="50" fill="#000" text-anchor="start" font-weight="normal" font-style="normal" >e</text>
<text x="871.5" y="516.4" font-family='"Liberation Sans", sans-serif' font-size="50" fill="#000" text-anchor="start" font-weight="normal" font-style="normal" >f</text>
</g>
</svg>
</body></html>
